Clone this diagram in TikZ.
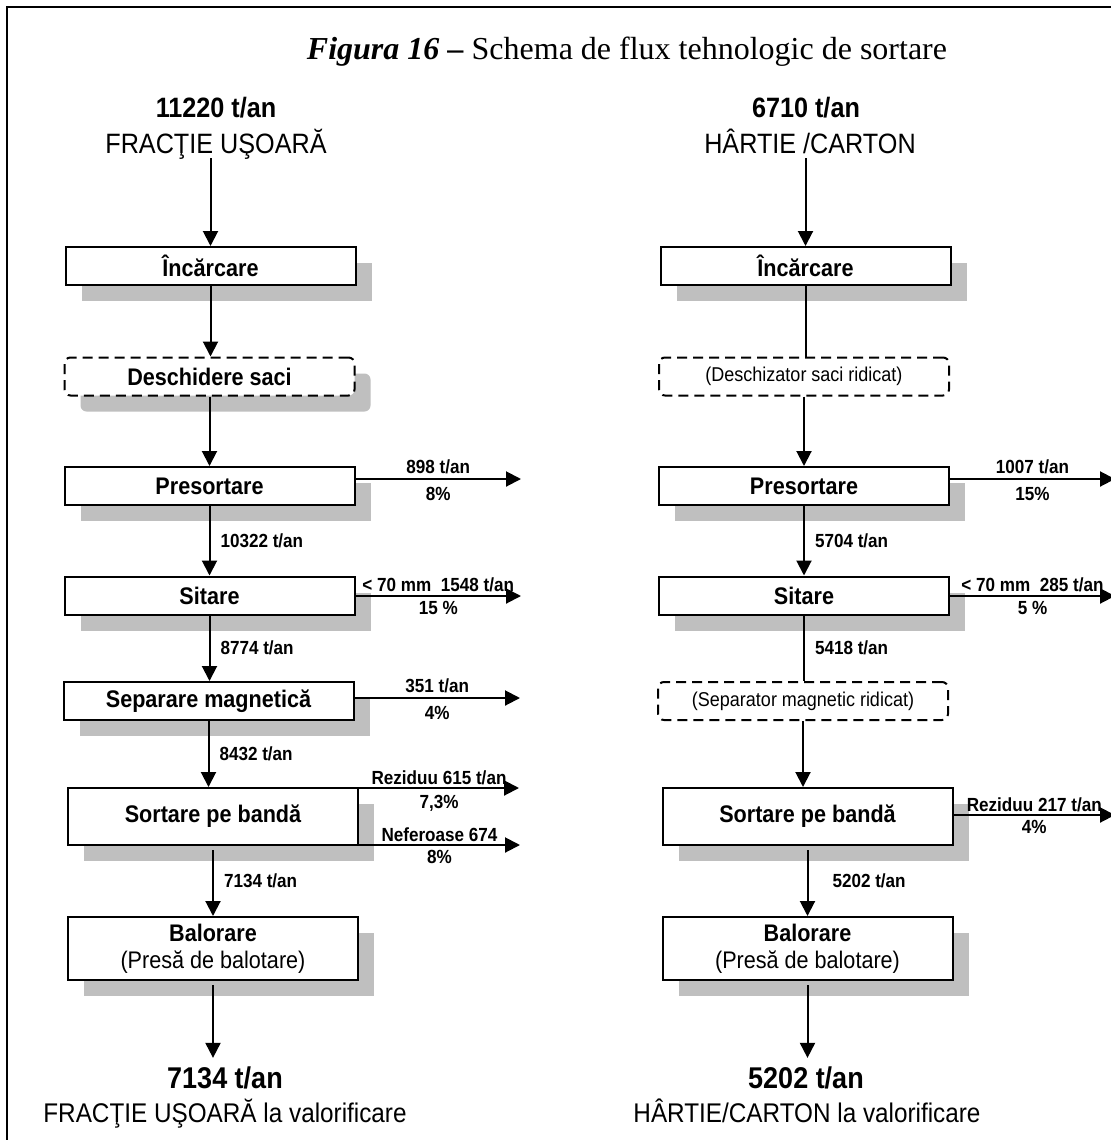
\documentclass[tikz,border=0pt]{standalone}
\usepackage{fontspec}
\setmainfont{Liberation Serif}
\newfontfamily\narrowfont[FakeStretch=0.9]{Liberation Sans}
\newfontfamily\titlefont{Liberation Serif}
\usetikzlibrary{calc,arrows.meta,shadows}
\definecolor{shadowgray}{RGB}{191,191,191}

\begin{document}
\begin{tikzpicture}[x=0.5pt, y=-0.5pt,
	box/.style={draw, fill=white, line width=1pt, minimum width=145pt, minimum height=19pt, inner sep=1pt, align=center, font=\narrowfont\bfseries\fontsize{12}{13.5}\selectfont, drop shadow={shadow xshift=8pt, shadow yshift=-8pt, fill=shadowgray, opacity=1}},
	dbox/.style={draw, fill=white, line width=1pt, dash pattern=on 5pt off 3pt, rounded corners=3pt, minimum width=145pt, minimum height=19pt, inner sep=1pt, font=\narrowfont\fontsize{10}{12}\selectfont},
	flow/.style={line width=1pt, -{Triangle[length=7.5pt,width=7.5pt]}},
	pipe/.style={line width=1pt},
	qty/.style={inner sep=1pt, font=\narrowfont\bfseries\fontsize{9.5}{11}\selectfont},
	headnum/.style={anchor=base, inner sep=0pt, font=\narrowfont\bfseries\fontsize{14}{17}\selectfont},
	headtxt/.style={anchor=base, inner sep=0pt, font=\narrowfont\fontsize{14}{17}\selectfont},
	footnum/.style={anchor=base, inner sep=4pt, font=\narrowfont\bfseries\fontsize{15}{18}\selectfont},
	foottxt/.style={anchor=base, inner sep=0pt, font=\narrowfont\fontsize{13.5}{16}\selectfont}]
		\useasboundingbox (0,0) rectangle (1110,1140);
		\draw[line width=1.2pt] (7,1145) -- (7,7) -- (1115,7);
		\node (T) at (627,59) [anchor=base, font=\titlefont\fontsize{16}{19}\selectfont] {\textbf{\textit{Figura 16} –} Schema de flux tehnologic de sortare};

		\node (A) at (216,117) [headnum] {11220 t/an};
		\node (A0) at (216,153) [headtxt] {FRACŢIE UŞOARĂ};
		\node (A1) at (210.5,266) [box] {Încărcare};
		\node (A2) at (209.5,376.5) [box, dash pattern=on 5pt off 3pt, rounded corners=3pt] {Deschidere saci};
		\node (A3) at (209.5,486) [box] {Presortare};
		\node (A4) at (209.5,595.5) [box] {Sitare};
		\node (A5) at (208.5,701) [box] {Separare magnetică};
		\node (A6) at (213,816.5) [box, minimum height=28.5pt] {Sortare pe bandă};
		\node (A7) at (213,948.5) [box, minimum height=31.5pt] {Balorare\\{\mdseries (Presă de balotare)}};
		\node (A8) at (225,1088) [footnum] {7134 t/an};
		\node (A9) at (225,1122) [foottxt] {FRACŢIE UŞOARĂ la valorificare};

		\node (B) at (806,117) [headnum] {6710 t/an};
		\node (B0) at (810,153) [headtxt] {HÂRTIE /CARTON};
		\node (B1) at (805.5,266) [box] {Încărcare};
		\node (B2) at (804,376.5) [dbox] {(Deschizator saci ridicat)};
		\node (B3) at (804,486) [box] {Presortare};
		\node (B4) at (804,595.5) [box] {Sitare};
		\node (B5) at (803,701) [dbox] {(Separator magnetic ridicat)};
		\node (B6) at (807.5,816.5) [box, minimum height=28.5pt] {Sortare pe bandă};
		\node (B7) at (807.5,948.5) [box, minimum height=31.5pt] {Balorare\\{\mdseries (Presă de balotare)}};
		\node (B8) at (806,1088) [footnum] {5202 t/an};
		\node (B9) at (807,1122) [foottxt] {HÂRTIE/CARTON la valorificare};

		\coordinate (A3o) at (521,479);
		\coordinate (A4o) at (521,596);
		\coordinate (A5o) at (520,698);
		\coordinate (A6o) at (519,788);
		\coordinate (A6p) at (520,845);
		\coordinate (B3o) at (1115,479);
		\coordinate (B4o) at (1115,596);
		\coordinate (B6o) at (1115,815);

		\draw[flow, shorten <=2.5pt] (A1.north |- A0.base) -- (A1.north);
		\draw[flow] (A1.south) -- (A1.south |- A2.north);
		\draw[flow] (A2.south) -- (A2.south |- A3.north);
		\draw[flow] (A3.south) -- node[qty, right=4pt] {10322 t/an} (A3.south |- A4.north);
		\draw[flow] (A4.south) -- node[qty, right=4pt] {8774 t/an} (A4.south |- A5.north);
		\draw[flow] (A5.south) -- node[qty, right=4pt] {8432 t/an} (A5.south |- A6.north);
		\draw[flow, shorten <=2pt] (A6.south) -- node[qty, right=4pt] {7134 t/an} (A6.south |- A7.north);
		\draw[flow, shorten <=2pt] (A7.south) -- (A7.south |- A8.north);
		\draw[flow] (A3o -| A3.east) -- node[qty, above=1pt] {898 t/an} node[qty, below=2.5pt] {8\%} (A3o);
		\draw[flow] (A4o -| A4.east) -- node[qty, above=0.5pt] {< 70 mm\ \ 1548 t/an} node[qty, below=1pt] {15 \%} (A4o);
		\draw[flow] (A5o -| A5.east) -- node[qty, above=1pt] {351 t/an} node[qty, below=2.5pt] {4\%} (A5o);
		\draw[flow] (A6o -| A6.east) -- node[qty, above=0pt] {Reziduu 615 t/an} node[qty, below=2pt] {7,3\%} (A6o);
		\draw[flow] (A6p -| A6.east) -- node[qty, above=0pt] {Neferoase 674} node[qty, below=1pt] {8\%} (A6p);

		\draw[flow, shorten <=2.5pt] (B1.north |- B0.base) -- (B1.north);
		\draw[pipe] (B1.south) -- (B1.south |- B2.north);
		\draw[flow] (B2.south) -- (B2.south |- B3.north);
		\draw[flow] (B3.south) -- node[qty, right=4pt] {5704 t/an} (B3.south |- B4.north);
		\draw[pipe] (B4.south) -- node[qty, right=4pt] {5418 t/an} (B4.south |- B5.north);
		\draw[flow] (B5.south) -- (B5.south |- B6.north);
		\draw[flow, shorten <=2pt] (B6.south) -- node[qty, right=11pt] {5202 t/an} (B6.south |- B7.north);
		\draw[flow, shorten <=2pt] (B7.south) -- (B7.south |- B8.north);
		\draw[flow] (B3o -| B3.east) -- node[qty, above=1pt] {1007 t/an} node[qty, below=2.5pt] {15\%} (B3o);
		\draw[flow] (B4o -| B4.east) -- node[qty, above=0.5pt] {< 70 mm\ \ 285 t/an} node[qty, below=1pt] {5 \%} (B4o);
		\draw[flow] (B6o -| B6.east) -- node[qty, above=0pt] {Reziduu 217 t/an} node[qty, below=1pt] {4\%} (B6o);
	\end{tikzpicture}
\end{document}
